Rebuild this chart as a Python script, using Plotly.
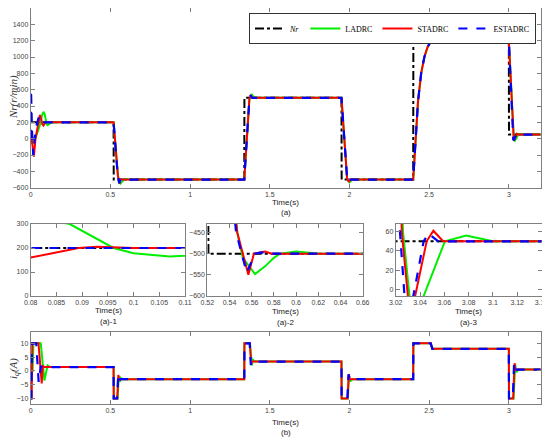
import plotly.graph_objects as go

# ---- speed reference and responses (r/min) ----
t_ref = [0, 0.52, 0.521, 1.34, 1.341, 1.95, 1.951, 2.4, 2.401, 3.0, 3.001, 3.2]
n_ref = [200, 200, -500, -500, 500, 500, -500, -500, 1200, 1200, 50, 50]

t_ladrc = [0, 0.01, 0.025, 0.04, 0.055, 0.07, 0.08, 0.0876, 0.092, 0.0961, 0.1, 0.107, 0.11, 0.12, 0.13,
           0.52, 0.547, 0.552, 0.563, 0.572, 0.58, 0.5855, 0.6, 0.621,
           1.34, 1.372, 1.385, 1.395, 1.41,
           1.95, 1.985, 2.0, 2.015, 2.03,
           2.4, 2.43, 2.45, 2.47, 2.49, 2.51, 2.525, 2.54,
           3.0, 3.026, 3.032, 3.038, 3.043, 3.0605, 3.078, 3.09, 3.1, 3.2]
n_ladrc = [0, -60, -20, 60, 150, 280, 330, 300, 250, 200, 178, 165, 168, 185, 200,
           200, -450, -510, -548, -530, -510, -500, -495, -500,
           -500, 480, 545, 520, 500,
           500, -480, -535, -505, -500,
           -500, 450, 800, 1000, 1120, 1190, 1205, 1200,
           1200, 60, -15, -25, -7, 50, 56, 53, 50, 50]

t_stadrc = [0, 0.01, 0.02, 0.03, 0.045, 0.058, 0.066, 0.073, 0.08, 0.0893, 0.093, 0.1,
            0.52, 0.547, 0.557, 0.562, 0.572, 0.578,
            1.34, 1.372, 1.38, 1.39,
            1.95, 1.985, 1.995, 2.005,
            2.4, 2.43, 2.45, 2.47, 2.49, 2.51, 2.525, 2.54,
            3.0, 3.025, 3.031, 3.036, 3.0455, 3.051, 3.059, 3.2]
n_stadrc = [100, -80, -220, 0, 150, 290, 240, 175, 160, 200, 205, 200,
            200, -450, -550, -500, -495, -500,
            -500, 480, 535, 500,
            500, -480, -530, -500,
            -500, 450, 800, 1000, 1120, 1190, 1210, 1200,
            1200, 60, -20, -7, 50, 61, 50, 50]

t_estadrc = [0, 0.002, 0.008, 0.016, 0.025, 0.035, 0.05, 0.06, 0.07,
             0.52, 0.546, 0.5555, 0.563, 0.569, 0.575,
             1.34, 1.372, 1.38, 1.39,
             1.95, 1.985, 1.993, 2.003,
             2.4, 2.43, 2.45, 2.47, 2.49, 2.51, 2.525, 2.54,
             3.0, 3.0235, 3.028, 3.0345, 3.043, 3.047, 3.055, 3.2]
n_estadrc = [0, 600, 100, -200, 0, 150, 260, 190, 200,
             200, -450, -545, -500, -497, -500,
             -500, 480, 530, 500,
             500, -480, -525, -500,
             -500, 450, 800, 1000, 1120, 1190, 1205, 1200,
             1200, 60, -20, -7, 50, 58, 50, 50]

# ---- q-axis current (A) ----
t_iq_l = [0, 0.012, 0.017, 0.063, 0.086, 0.106, 0.12,
          0.52, 0.521, 0.545, 0.553, 0.558, 0.565, 0.575,
          1.34, 1.341, 1.376, 1.388, 1.395, 1.41,
          1.95, 1.951, 1.99, 1.997, 2.003, 2.02,
          2.4, 2.401, 2.51, 2.52,
          3.0, 3.001, 3.03, 3.04, 3.046, 3.06, 3.2]
iq_l = [0, 0, 10, 10, -3.5, 2, 1.4,
        1.4, -10, -10, -2, -4, -2.5, -3,
        -3, 10, 10, 2, 4, 3.4,
        3.4, -10, -10, -1.5, -3.8, -3,
        -3, 10, 10, 8,
        8, -10, -10, 2.5, -0.5, 0.5, 0.5]

t_iq_s = [0, 0.006, 0.01, 0.049, 0.069, 0.077, 0.083,
          0.52, 0.521, 0.543, 0.55, 0.556, 0.565,
          1.34, 1.341, 1.375, 1.383, 1.39,
          1.95, 1.951, 1.988, 1.996, 2.003,
          2.4, 2.401, 2.51, 2.52,
          3.0, 3.001, 3.027, 3.036, 3.042, 3.05, 3.2]
iq_s = [-10, -10, 10, 10, -4.5, 2, 1.4,
        1.4, -10, -10, -1.5, -3.5, -3,
        -3, 10, 10, 2.5, 3.4,
        3.4, -10, -10, -1.2, -3,
        -3, 10, 10, 8,
        8, -10, -10, 2.8, 0.2, 0.5, 0.5]

t_iq_e = [0, 0.004, 0.008, 0.035, 0.05, 0.058, 0.064, 0.07,
          0.52, 0.521, 0.542, 0.549, 0.555, 0.563,
          1.34, 1.341, 1.374, 1.381, 1.388,
          1.95, 1.951, 1.987, 1.994, 2.0,
          2.4, 2.401, 2.51, 2.52,
          3.0, 3.001, 3.025, 3.033, 3.039, 3.047, 3.2]
iq_e = [-10, -10, 10, 10, -4, 0, 1.8, 1.4,
        1.4, -10, -10, -1.5, -3.4, -3,
        -3, 10, 10, 2.2, 3.4,
        3.4, -10, -10, -1.2, -3,
        -3, 10, 10, 8,
        8, -10, -10, 2.6, 0.2, 0.5, 0.5]

# page body adds an 8px margin, so the figure is drawn 8px smaller and shifted
OFF = 8
W, H = 550 - OFF, 440 - OFF
AX = "#808080"
TICKFONT = dict(family="Liberation Sans, Arial", size=7, color="#444")


def fx(x):
    return min(max((x - OFF) / W, 0), 1)


def fy(y):
    return min(max(1 - (y - OFF) / H, 0), 1)


def px(x0, x1):
    return [fx(x0), fx(x1)]


def py(top, bottom):
    return [fy(bottom), fy(top)]


def axis(domain, rng, tickvals, ticktext=None, anchor=None):
    d = dict(domain=domain, range=rng, tickvals=tickvals, showgrid=False, zeroline=False,
             showline=True, linecolor=AX, linewidth=1, mirror="ticks", ticks="inside",
             ticklen=4, tickcolor=AX, tickfont=TICKFONT, anchor=anchor, automargin=False)
    if ticktext is not None:
        d["ticktext"] = ticktext
    return d


fig = go.Figure()

speed = [
    ("<i>Nr</i>", t_ref, n_ref, dict(color="black", width=2, dash="dashdot")),
    ("LADRC", t_ladrc, n_ladrc, dict(color="#00ee00", width=2)),
    ("STADRC", t_stadrc, n_stadrc, dict(color="#ff0000", width=2)),
    ("ESTADRC", t_estadrc, n_estadrc, dict(color="#0000ff", width=2.2, dash="dash")),
]

panels = [("x", "y"), ("x2", "y2"), ("x3", "y3"), ("x4", "y4")]
for i, (xa, ya) in enumerate(panels):
    for name, t, v, line in speed:
        fig.add_trace(go.Scatter(x=t, y=v, mode="lines", name=name, line=line,
                                 xaxis=xa, yaxis=ya, showlegend=(i == 0)))

current = [
    (t_iq_l, iq_l, dict(color="#00ee00", width=2)),
    (t_iq_s, iq_s, dict(color="#ff0000", width=2)),
    (t_iq_e, iq_e, dict(color="#0000ff", width=2.2, dash="dash")),
]
for t, v, line in current:
    fig.add_trace(go.Scatter(x=t, y=v, mode="lines", line=line, xaxis="x5", yaxis="y5",
                             showlegend=False))

main_x = [0, 0.5, 1, 1.5, 2, 2.5, 3]
main_xt = ["0", "0.5", "1", "1.5", "2", "2.5", "3"]

fig.update_layout(
    width=W, height=H,
    margin=dict(l=0, r=0, t=0, b=0, autoexpand=False),
    paper_bgcolor="white", plot_bgcolor="white",
    xaxis=axis(px(30.7, 540.7), [0, 3.2], main_x, main_xt, "y"),
    yaxis=axis(py(8, 187.7), [-600, 1600], list(range(-600, 1601, 200)), anchor="x"),
    xaxis2=axis(px(30.7, 185), [0.08, 0.11], [0.08, 0.085, 0.09, 0.095, 0.1, 0.105, 0.11],
                ["0.08", "0.085", "0.09", "0.095", "0.1", "0.105", "0.11"], "y2"),
    yaxis2=axis(py(224, 296), [0, 300], [0, 100, 200, 300], anchor="x2"),
    xaxis3=axis(px(207.3, 362.7), [0.52, 0.66], [0.52, 0.54, 0.56, 0.58, 0.6, 0.62, 0.64, 0.66],
                ["0.52", "0.54", "0.56", "0.58", "0.6", "0.62", "0.64", "0.66"], "y3"),
    yaxis3=axis(py(224, 296), [-600, -430], [-600, -550, -500, -450], anchor="x3"),
    xaxis4=axis(px(395.7, 541.5), [3.02, 3.14], [3.02, 3.04, 3.06, 3.08, 3.1, 3.12, 3.14],
                ["3.02", "3.04", "3.06", "3.08", "3.1", "3.12", "3.14"], "y4"),
    yaxis4=axis(py(224, 296), [-7, 68], [0, 20, 40, 60], anchor="x4"),
    xaxis5=axis(px(30.7, 540.7), [0, 3.2], main_x, main_xt, "y5"),
    yaxis5=axis(py(332.3, 404), [-12, 14], [-10, -5, 0, 5, 10], anchor="x5"),
    legend=dict(orientation="h", x=fx(536), xanchor="right", y=fy(13), yanchor="top",
                bgcolor="white", bordercolor="#333", borderwidth=1,
                font=dict(family="Liberation Serif, Times New Roman", size=8, color="black"),
                itemwidth=30, tracegroupgap=0),
)

label_font = dict(family="Liberation Sans, Arial", size=8, color="#222")
notes = [
    ("Time(s)", 285.7, 202), ("(a)", 285.7, 213),
    ("Time(s)", 108, 310), ("(a)-1", 108, 321),
    ("Time(s)", 285, 311), ("(a)-2", 285, 322),
    ("Time(s)", 468.7, 311), ("(a)-3", 468.7, 322),
    ("Time(s)", 285.7, 422), ("(b)", 285.7, 432),
]
for text, x, y in notes:
    fig.add_annotation(text=text, x=fx(x), y=fy(y), xref="paper", yref="paper",
                       showarrow=False, font=label_font, xanchor="center", yanchor="middle")

title_font = dict(family="Liberation Serif, Times New Roman", size=11, color="#333")
fig.add_annotation(text="<i>Nr(r/min)</i>", x=fx(14), y=fy(97), xref="paper", yref="paper",
                   showarrow=False, textangle=-90, font=title_font,
                   xanchor="center", yanchor="middle")
fig.add_annotation(text="<i>i<sub>q</sub>(A)</i>", x=fx(14), y=fy(369), xref="paper", yref="paper",
                   showarrow=False, textangle=-90, font=title_font,
                   xanchor="center", yanchor="middle")

fig.write_html("out.html")
